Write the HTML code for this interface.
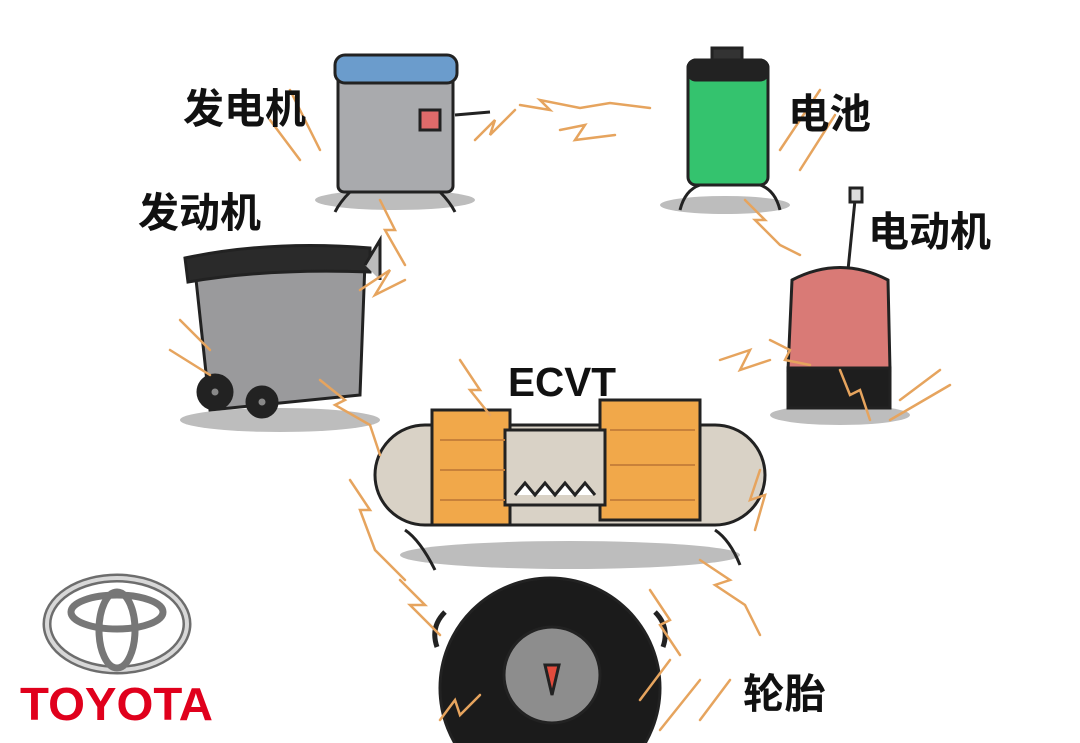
<!DOCTYPE html>
<html><head><meta charset="utf-8">
<style>
html,body{margin:0;padding:0;background:#fff;width:1080px;height:743px;overflow:hidden;}
svg{display:block;overflow:hidden}
text{font-family:"Liberation Sans","Noto Sans CJK SC",sans-serif;font-weight:bold;}
</style></head>
<body>
<svg width="1080" height="743" viewBox="0 0 1080 743" xmlns="http://www.w3.org/2000/svg">
<defs><clipPath id="c"><rect width="1080" height="743"/></clipPath></defs>
<g clip-path="url(#c)">
<rect width="1080" height="743" fill="#fff"/>
<g fill="#bdbdbd">
<ellipse cx="395" cy="200" rx="80" ry="10"/>
<ellipse cx="725" cy="205" rx="65" ry="9"/>
<ellipse cx="280" cy="420" rx="100" ry="12"/>
<ellipse cx="840" cy="415" rx="70" ry="10"/>
<ellipse cx="570" cy="555" rx="170" ry="14"/>
</g>
<g stroke="#222" stroke-width="3">
<rect x="338" y="62" width="115" height="130" rx="6" fill="#a9aaad"/>
<rect x="335" y="55" width="122" height="28" rx="10" fill="#6b9ccc"/>
<path d="M420 110 l20 0 l0 20 l-20 0z" fill="#e06a6a"/>
<line x1="455" y1="115" x2="490" y2="112"/>
<path d="M350 192 q-10 10 -15 20 M440 192 q10 10 15 20" fill="none"/>
</g>
<g stroke="#222" stroke-width="3">
<rect x="712" y="48" width="30" height="14" fill="#333"/>
<rect x="688" y="60" width="80" height="125" rx="8" fill="#34c36e"/>
<rect x="688" y="60" width="80" height="20" rx="8" fill="#222"/>
<path d="M700 185 q-15 5 -20 25 M760 185 q15 5 20 25" fill="none"/>
</g>
<g stroke="#222" stroke-width="3">
<path d="M195 270 L365 262 L360 395 L210 410 Z" fill="#9a9a9c"/>
<path d="M185 258 Q270 240 370 248 L370 272 Q270 268 188 282 Z" fill="#2a2a2a"/>
<path d="M365 265 l15 -25 l0 40" fill="#bbb"/>
<circle cx="215" cy="392" r="17" fill="#222"/>
<circle cx="262" cy="402" r="15" fill="#222"/>
<circle cx="215" cy="392" r="5" fill="#888"/>
<circle cx="262" cy="402" r="5" fill="#888"/>
</g>
<g stroke="#222" stroke-width="3">
<line x1="855" y1="200" x2="848" y2="270"/>
<rect x="850" y="188" width="12" height="14" fill="#ddd"/>
<path d="M792 280 Q840 255 888 280 L890 370 L788 370 Z" fill="#d97a76"/>
<rect x="788" y="368" width="102" height="40" fill="#1e1e1e"/>
</g>
<g stroke="#222" stroke-width="3">
<rect x="375" y="425" width="390" height="100" rx="50" fill="#d9d2c6"/>
<rect x="432" y="410" width="78" height="115" fill="#f1a84a"/>
<rect x="600" y="400" width="100" height="120" fill="#f1a84a"/>
<rect x="505" y="430" width="100" height="75" fill="#d9d2c6"/>
<path d="M515 495 l10 -12 l10 12 l10 -12 l10 12 l10 -12 l10 12 l10 -12 l10 12" fill="#fff"/>
<g stroke="#c8813a" stroke-width="2" fill="none">
<line x1="440" y1="440" x2="505" y2="440"/><line x1="440" y1="470" x2="505" y2="470"/><line x1="440" y1="500" x2="505" y2="500"/>
<line x1="610" y1="430" x2="695" y2="430"/><line x1="610" y1="465" x2="695" y2="465"/><line x1="610" y1="500" x2="695" y2="500"/>
</g>
<path d="M405 530 q15 10 30 40 M715 530 q15 10 25 35" fill="none"/>
</g>
<g stroke="#222" stroke-width="3">
<circle cx="550" cy="688" r="110" fill="#1b1b1b"/>
<circle cx="552" cy="675" r="48" fill="#8d8d8d"/>
<path d="M445 612 q-15 15 -8 35 M655 612 q15 15 8 35" fill="none" stroke-width="5"/>
<path d="M545 665 l7 30 l7 -30 z" fill="#e24b3c"/>
</g>
<g stroke="#e6a45e" stroke-width="2.5" fill="none" stroke-linecap="round">
<path d="M475 140 l20 -20 l-5 15 l25 -25"/>
<path d="M520 105 l30 5 l-10 -10 l40 8 l30 -5 l40 5"/>
<path d="M560 130 l25 -5 l-10 15 l40 -5"/>
<path d="M380 200 l15 30 l-10 0 l20 35"/>
<path d="M360 290 l30 -20 l-15 25 l30 -15"/>
<path d="M320 380 l25 20 l-10 5 l35 20 l10 30"/>
<path d="M350 480 l20 30 l-10 0 l15 40 l30 30"/>
<path d="M400 580 l25 25 l-15 0 l30 30"/>
<path d="M745 200 l20 20 l-10 0 l25 25 l20 10"/>
<path d="M770 340 l20 10 l-5 10 l25 5"/>
<path d="M720 360 l30 -10 l-10 20 l30 -10"/>
<path d="M840 370 l10 25 l10 -5 l10 30"/>
<path d="M760 470 l-10 30 l15 -5 l-10 35"/>
<path d="M700 560 l30 20 l-15 5 l30 20 l15 30"/>
<path d="M650 590 l20 30 l-10 5 l20 30"/>
<path d="M440 720 l15 -20 l5 15 l20 -20"/>
<path d="M640 700 l30 -40 M660 730 l40 -50 M700 720 l30 -40"/>
<path d="M780 150 l40 -60 M800 170 l35 -55"/>
<path d="M300 160 l-30 -40 M320 150 l-30 -60"/>
<path d="M180 320 l30 30 M170 350 l40 25"/>
<path d="M900 400 l40 -30 M890 420 l60 -35"/>
<path d="M460 360 l20 30 l-10 0 l20 25"/>
</g>
<g font-size="41" fill="#111">
<text x="183" y="123" textLength="123" lengthAdjust="spacingAndGlyphs">发电机</text>
<text x="788" y="128" textLength="83" lengthAdjust="spacingAndGlyphs">电池</text>
<text x="138" y="227" textLength="123" lengthAdjust="spacingAndGlyphs">发动机</text>
<text x="868" y="246" textLength="123" lengthAdjust="spacingAndGlyphs">电动机</text>
<text x="508" y="396" textLength="108" lengthAdjust="spacingAndGlyphs">ECVT</text>
<text x="743" y="708" textLength="83" lengthAdjust="spacingAndGlyphs">轮胎</text>
</g>
<g fill="none">
<ellipse cx="117" cy="624" rx="70" ry="46" stroke="#6d6d6d" stroke-width="9"/>
<ellipse cx="117" cy="624" rx="70" ry="46" stroke="#d8d8d8" stroke-width="4"/>
<ellipse cx="117" cy="612" rx="46" ry="17" stroke="#777" stroke-width="7"/>
<ellipse cx="117" cy="630" rx="18" ry="38" stroke="#777" stroke-width="7"/>
</g>
<text x="20" y="720" font-size="46" fill="#e0001c" textLength="193" lengthAdjust="spacingAndGlyphs">TOYOTA</text>
</g>
</svg>
</body></html>
